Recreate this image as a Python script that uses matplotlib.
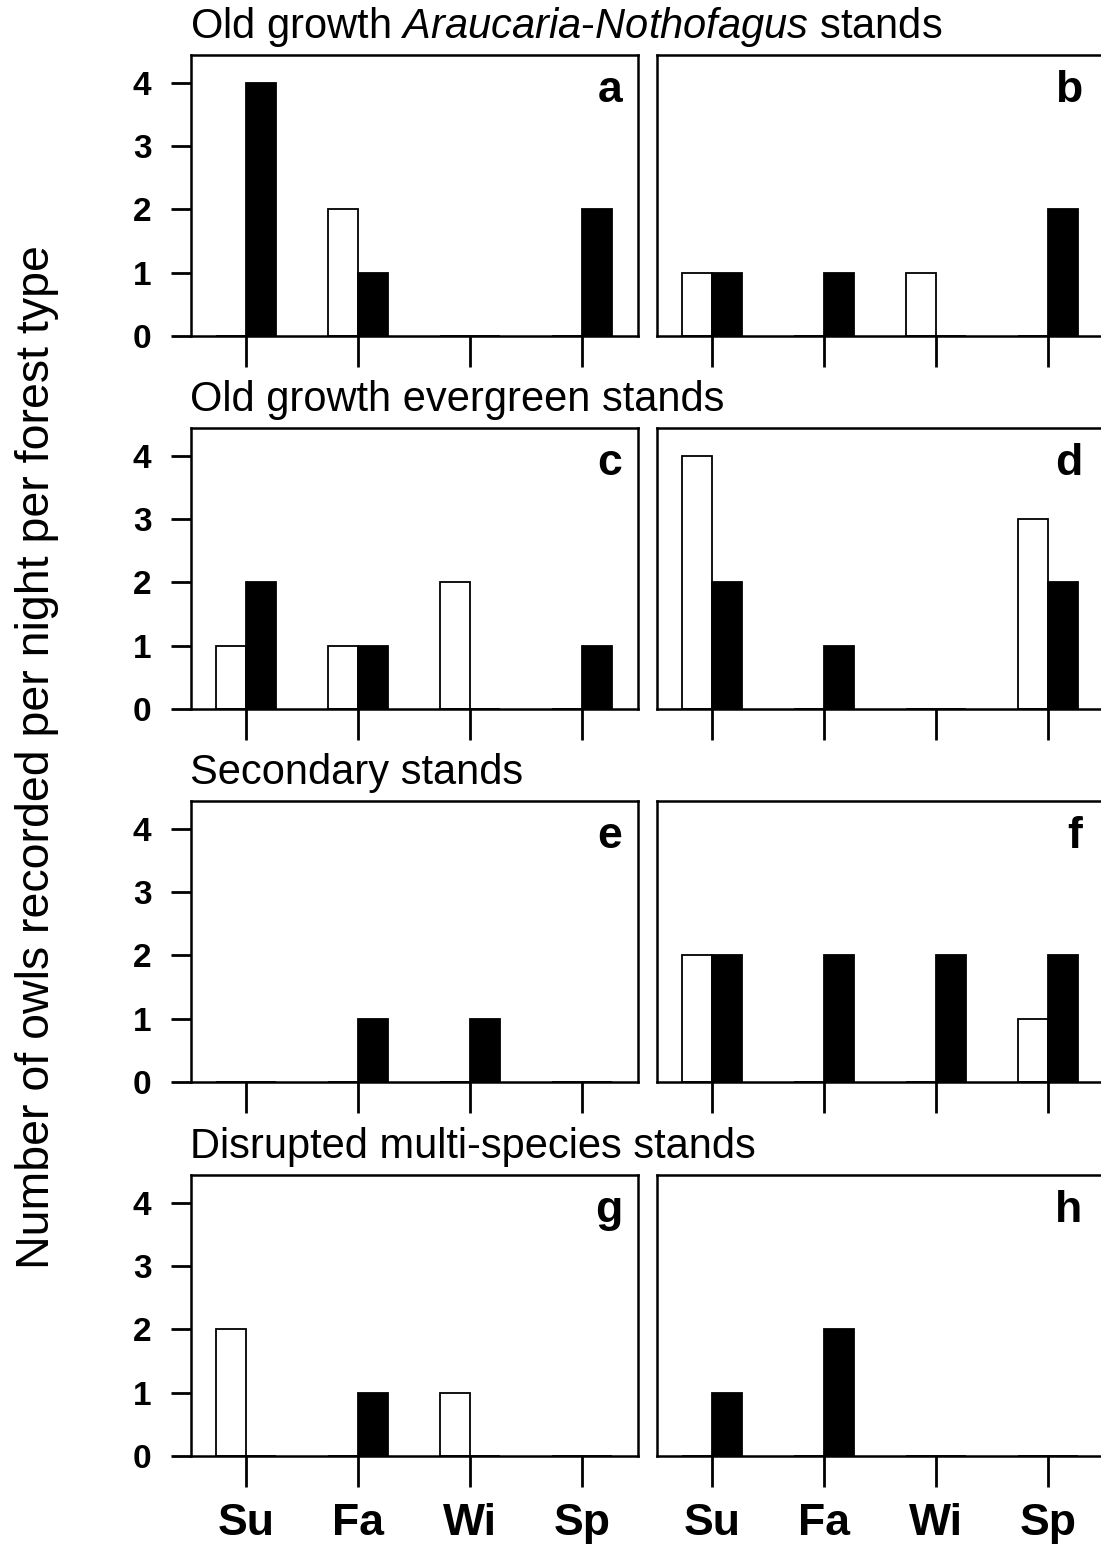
import matplotlib
matplotlib.use("Agg")
import matplotlib.pyplot as plt
import numpy as np

plt.rcParams["mathtext.fontset"] = "custom"
plt.rcParams["mathtext.rm"] = "Liberation Sans"
plt.rcParams["mathtext.it"] = "Liberation Sans:italic"
plt.rcParams["mathtext.bf"] = "Liberation Sans:bold"

seasons = ["Su", "Fa", "Wi", "Sp"]
panel_letters = ["a", "b", "c", "d", "e", "f", "g", "h"]
row_titles = ["Old growth $\\it{Araucaria}$-$\\it{Nothofagus}$ stands",
              "Old growth evergreen stands",
              "Secondary stands",
              "Disrupted multi-species stands"]

# white (open) bars and black (filled) bars per panel
white_a = [0, 2, 0, 0]; black_a = [4, 1, 0, 2]
white_b = [1, 0, 1, 0]; black_b = [1, 1, 0, 2]
white_c = [1, 1, 2, 0]; black_c = [2, 1, 0, 1]
white_d = [4, 0, 0, 3]; black_d = [2, 1, 0, 2]
white_e = [0, 0, 0, 0]; black_e = [0, 1, 1, 0]
white_f = [2, 0, 0, 1]; black_f = [2, 2, 2, 2]
white_g = [2, 0, 1, 0]; black_g = [0, 1, 0, 0]
white_h = [0, 0, 0, 0]; black_h = [1, 2, 0, 0]

whites = [white_a, white_b, white_c, white_d, white_e, white_f, white_g, white_h]
blacks = [black_a, black_b, black_c, black_d, black_e, black_f, black_g, black_h]
yticks = [0, 1, 2, 3, 4]

FAM = ["Liberation Sans", "DejaVu Sans"]

W, H = 1101, 1544
fig = plt.figure(figsize=(W / 100, H / 100), dpi=100)

col_left = [191, 657]
ax_w = 447
baselines = [336, 709, 1082, 1456]
ax_h = 281

bw = 0.265
x = np.arange(len(seasons))

for r in range(4):
    for c in range(2):
        i = r * 2 + c
        left = col_left[c] / W
        bottom = 1 - baselines[r] / H
        ax = fig.add_axes([left, bottom, ax_w / W, ax_h / H])
        ax.bar(x - bw / 2, whites[i], width=bw, color="white", edgecolor="black",
               linewidth=1.3, zorder=2)
        ax.bar(x + bw / 2, blacks[i], width=bw, color="black", edgecolor="black",
               linewidth=1.3, zorder=2)
        ax.set_xlim(-0.49, 3.5)
        ax.set_ylim(0, 4.44)
        for s in ax.spines.values():
            s.set_linewidth(1.8)
        ax.set_xticks(x)
        ax.tick_params(axis="x", direction="out", length=22, width=2, pad=12)
        if r == 3:
            ax.set_xticklabels(seasons, fontsize=32, fontweight="bold", family=FAM)
        else:
            ax.set_xticklabels([])
        if c == 0:
            ax.set_yticks(yticks)
            ax.set_yticklabels([str(v) for v in yticks], fontsize=24,
                               fontweight="bold", family=FAM)
            ax.tick_params(axis="y", direction="out", length=14.5, width=2, pad=14)
        else:
            ax.set_yticks([])
        lx = 0.965 if c == 0 else 0.951
        ax.text(lx, 0.945, panel_letters[i], transform=ax.transAxes, ha="right",
                va="top", fontsize=32, fontweight="bold", family=FAM)
    fig.text(190 / W, 1 - (baselines[r] - ax_h - 17) / H, row_titles[r],
             ha="left", va="baseline", fontsize=30, family=FAM)

fig.text(37 / W, 1 - 757 / H, "Number of owls recorded per night per forest type",
         rotation=90, ha="center", va="center", fontsize=33.5, family=FAM)

fig.savefig("out.png", dpi=100, facecolor="white")
